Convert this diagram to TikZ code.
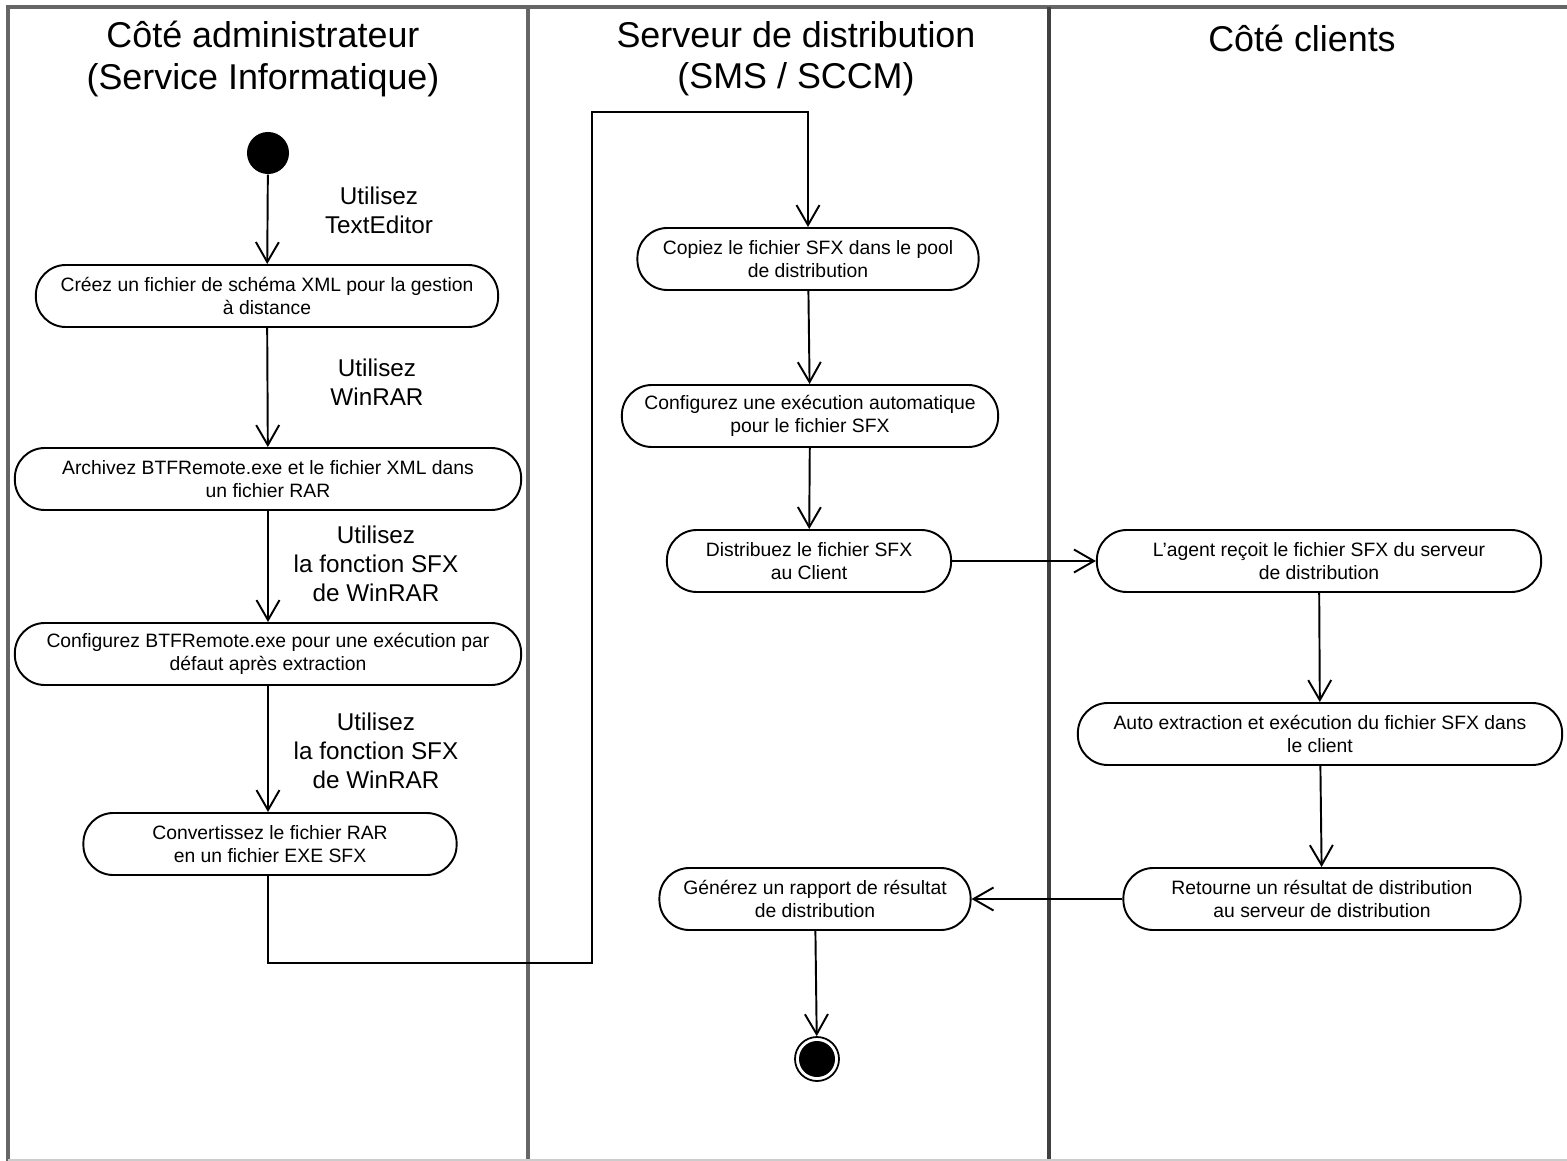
\documentclass[tikz,border=0pt]{standalone}
\usepackage{fontspec}
\setmainfont{Liberation Sans}
\usetikzlibrary{arrows.meta}

\tikzset{
  lane/.style={line width=1.1pt,gray!80!black},
  titre/.style={align=center,font=\fontsize{10.2}{11.7}\selectfont},
  usage/.style={align=center,font=\fontsize{6.9}{8.25}\selectfont},
  action/.style={draw,line width=0.55pt,rounded corners=0.3cm,align=center,minimum height=0.62cm,inner sep=1pt,font=\fontsize{5.5}{6.5}\selectfont},
  flow/.style={line width=0.55pt,-{Straight Barb[length=2mm,width=2.3mm,line width=0.55pt]}},
}

\begin{document}
\begin{tikzpicture}[x=0.01cm,y=-0.01cm]
  \useasboundingbox (0,0) rectangle (1567,1161);
  \fill[white] (0,0) rectangle (1567,1161);
  % couloirs
  \draw[lane] (1567,7) -- (8,7) -- (8,1161);
  \draw[lane] (528,7) -- (528,1161);
  \draw[lane,black!75] (1049,7) -- (1049,1161);
  \draw[gray!40] (8,1160) -- (1567,1160);

  \node[titre] (admin) at (263,59) {Côté administrateur\\(Service Informatique)};
  \node[titre] (serveur) at (796,59) {Serveur de distribution\\(SMS / SCCM)};
  \node[titre] (clients) at (1302,38) {Côté clients};

  % administrateur
  \node[circle,fill=black,minimum size=0.42cm,inner sep=0pt] (debut) at (268,153) {};
  \node[action,minimum width=4.62cm] (creer) at (267,296) {Créez un fichier de schéma XML pour la gestion\\à distance};
  \node[action,minimum width=5.06cm] (archiver) at (268,479) {Archivez BTFRemote.exe et le fichier XML dans\\un fichier RAR};
  \node[action,minimum width=5.06cm] (configurer) at (268,654) {Configurez BTFRemote.exe pour une exécution par\\défaut après extraction};
  \node[action,minimum width=3.73cm] (convertir) at (270,844) {Convertissez le fichier RAR\\en un fichier EXE SFX};
  \node[usage] (u1) at (379,210) {Utilisez\\TextEditor};
  \node[usage] (u2) at (377,382) {Utilisez\\WinRAR};
  \node[usage] (u3) at (376,564) {Utilisez\\la fonction SFX\\de WinRAR};
  \node[usage] (u4) at (376,751) {Utilisez\\la fonction SFX\\de WinRAR};

  % serveur
  \node[action,minimum width=3.41cm] (copier) at (808,259) {Copiez le fichier SFX dans le pool\\de distribution};
  \node[action,minimum width=3.76cm] (planifier) at (810,416) {Configurez une exécution automatique\\pour le fichier SFX};
  \node[action,minimum width=2.84cm] (distribuer) at (809,561) {Distribuez le fichier SFX\\au Client};
  \node[action,minimum width=3.11cm] (generer) at (815,899) {Générez un rapport de résultat\\de distribution};
  \node[circle,draw,line width=0.5pt,minimum size=0.44cm,inner sep=0pt] (fin) at (817,1059) {};
  \fill (fin) circle (0.18cm);

  % clients
  \node[action,minimum width=4.44cm] (recevoir) at (1319,561) {L’agent reçoit le fichier SFX du serveur\\de distribution};
  \node[action,minimum width=4.84cm] (extraire) at (1320,734) {Auto extraction et exécution du fichier SFX dans\\le client};
  \node[action,minimum width=3.97cm] (retourner) at (1322,899) {Retourne un résultat de distribution\\au serveur de distribution};

  \coordinate (c1) at (592,963);
  \coordinate (c2) at (592,112);

  \draw[flow] (debut) -- (creer);
  \draw[flow] (creer) -- (archiver);
  \draw[flow] (archiver) -- (configurer);
  \draw[flow] (configurer.south) -- (configurer.south |- convertir.north);
  \draw[flow] (convertir.south -| 268,0) |- (c1) -- (c2) -| (copier.north);
  \draw[flow] (copier) -- (planifier);
  \draw[flow] (planifier) -- (distribuer);
  \draw[flow] (distribuer) -- (recevoir);
  \draw[flow] (recevoir) -- (extraire);
  \draw[flow] (extraire) -- (retourner);
  \draw[flow] (retourner) -- (generer);
  \draw[flow] (generer) -- (fin);
\end{tikzpicture}
\end{document}
